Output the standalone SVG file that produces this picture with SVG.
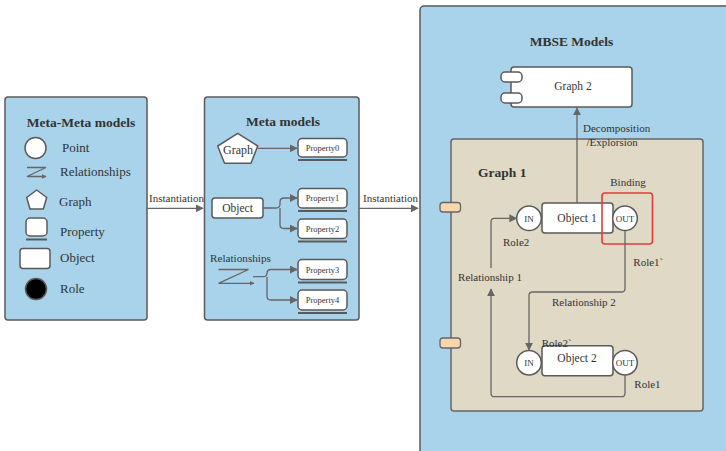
<svg xmlns="http://www.w3.org/2000/svg" width="726" height="451" viewBox="0 0 726 451">
<defs>
<marker id="ah" viewBox="0 0 10 10" refX="9" refY="5" markerWidth="8" markerHeight="8" markerUnits="userSpaceOnUse" orient="auto">
<path d="M0,0 L10,5 L0,10 z" fill="#666"/>
</marker>
<marker id="ahs" viewBox="0 0 10 10" refX="9" refY="5" markerWidth="5" markerHeight="5" markerUnits="userSpaceOnUse" orient="auto">
<path d="M0,0 L10,5 L0,10 z" fill="#666"/>
</marker>
</defs>
<style>
.panel{fill:#a8d3ea;stroke:#5a5a5a;stroke-width:1.5}
.tan{fill:#dfd9c6;stroke:#666;stroke-width:1.5}
.wb{fill:#fff;stroke:#5a5a5a;stroke-width:1.5;stroke-linejoin:round}
.t{font-family:"Liberation Serif","Times New Roman",serif;fill:#333}
.b{font-weight:bold}
.c{fill:none;stroke:#666;stroke-width:1.3}
.ul{stroke:#5a5a5a;stroke-width:2}
.tab{fill:#f9d7ae;stroke:#666;stroke-width:1.3}
</style>
<rect width="726" height="451" fill="#fff"/>

<g id="meta-meta">
<rect class="panel" x="5" y="97" width="142" height="223" rx="3"/>
<text class="t b" x="81" y="126.5" font-size="13.5" text-anchor="middle">Meta-Meta models</text>
<circle class="wb" cx="35.5" cy="148" r="10.5"/>
<text class="t" x="62" y="151.5" font-size="13">Point</text>
<path d="M27,167.5 H46 L27,176.5 H46" fill="none" stroke="#666" stroke-width="1.3" marker-end="url(#ahs)"/>
<text class="t" x="60" y="176" font-size="13">Relationships</text>
<polygon class="wb" points="36.7,190 46.7,197.5 43.3,209 30,209 26.7,197.5"/>
<text class="t" x="59" y="206" font-size="13">Graph</text>
<rect class="wb" x="26" y="218" width="21" height="18" rx="4"/>
<line class="ul" x1="26" y1="239.5" x2="47" y2="239.5"/>
<text class="t" x="60" y="236" font-size="13">Property</text>
<rect class="wb" x="20" y="248.5" width="30" height="20" rx="3"/>
<text class="t" x="60" y="262" font-size="13">Object</text>
<circle cx="36" cy="289" r="10.5" fill="#000" stroke="#5a5a5a" stroke-width="1.5"/>
<text class="t" x="60" y="293" font-size="13">Role</text>
</g>

<g id="meta">
<rect class="panel" x="204.5" y="97" width="154.5" height="223" rx="3"/>
<text class="t b" x="283" y="125.5" font-size="13.5" text-anchor="middle">Meta models</text>
<polygon class="wb" points="237.7,133.3 257.7,146 251,163.3 224.5,163.3 217.7,146"/>
<text class="t" x="238" y="154" font-size="12" text-anchor="middle">Graph</text>
<rect class="wb" x="212" y="198" width="51" height="20" rx="3"/>
<text class="t" x="237.5" y="211.5" font-size="11.5" text-anchor="middle">Object</text>
<text class="t" x="210" y="262" font-size="11.2">Relationships</text>
<path d="M218.5,269.5 H248.5 L218.5,283.3 H254" fill="none" stroke="#666" stroke-width="1.3" marker-end="url(#ahs)"/>
</g>

<g id="property0">
<rect class="wb" x="298" y="138.5" width="49" height="18.5" rx="4"/>
<line class="ul" x1="298" y1="160" x2="347" y2="160"/>
<text class="t" x="322.5" y="151" font-size="8.5" text-anchor="middle">Property0</text>
</g>
<g id="property1">
<rect class="wb" x="298" y="188.5" width="49" height="19.5" rx="4"/>
<line class="ul" x1="298" y1="211" x2="347" y2="211"/>
<text class="t" x="322.5" y="201" font-size="8.5" text-anchor="middle">Property1</text>
</g>
<g id="property2">
<rect class="wb" x="298" y="219" width="49" height="19.5" rx="4"/>
<line class="ul" x1="298" y1="241.5" x2="347" y2="241.5"/>
<text class="t" x="322.5" y="231.5" font-size="8.5" text-anchor="middle">Property2</text>
</g>
<g id="property3">
<rect class="wb" x="298" y="259.5" width="49" height="20" rx="4"/>
<line class="ul" x1="298" y1="282.5" x2="347" y2="282.5"/>
<text class="t" x="322.5" y="272.5" font-size="8.5" text-anchor="middle">Property3</text>
</g>
<g id="property4">
<rect class="wb" x="298" y="290" width="49" height="20" rx="4"/>
<line class="ul" x1="298" y1="313" x2="347" y2="313"/>
<text class="t" x="322.5" y="303" font-size="8.5" text-anchor="middle">Property4</text>
</g>

<g id="mbse">
<rect class="panel" x="420" y="6" width="320" height="460" rx="4"/>
<text class="t b" x="571.5" y="45.5" font-size="13.5" text-anchor="middle">MBSE Models</text>
</g>

<g id="graph2">
<rect class="wb" x="511" y="67" width="121" height="40" rx="3"/>
<rect class="wb" x="501" y="72" width="21" height="10" rx="4"/>
<rect class="wb" x="501" y="93" width="21" height="10" rx="4"/>
<text class="t" x="573" y="90" font-size="11.5" text-anchor="middle">Graph 2</text>
</g>

<g id="graph1">
<rect class="tan" x="451" y="139" width="252" height="272" rx="3"/>
<text class="t b" x="478" y="176.5" font-size="13.5">Graph 1</text>
<rect class="tab" x="440" y="202.5" width="20.5" height="9.5" rx="3"/>
<rect class="tab" x="440" y="338" width="20.5" height="10" rx="3"/>
</g>

<g id="object1">
<rect class="wb" x="542" y="203" width="71" height="30" rx="3"/>
<text class="t" x="577" y="222" font-size="11.5" text-anchor="middle">Object 1</text>
<circle class="wb" cx="529" cy="218.3" r="12.3"/>
<text class="t" x="529" y="221.5" font-size="9" text-anchor="middle">IN</text>
<circle class="wb" cx="625" cy="218.3" r="12.3"/>
<text class="t" x="625" y="221.5" font-size="9" text-anchor="middle">OUT</text>
</g>

<g id="binding">
<rect x="602" y="193" width="50.5" height="51" rx="3" fill="none" stroke="#e53b3b" stroke-width="1.6"/>
<text class="t" x="628" y="185.5" font-size="11" text-anchor="middle">Binding</text>
</g>

<g id="object2">
<rect class="wb" x="542" y="345.7" width="71" height="30" rx="3"/>
<text class="t" x="577" y="362.3" font-size="11.5" text-anchor="middle">Object 2</text>
<circle class="wb" cx="529" cy="362.7" r="12.3"/>
<text class="t" x="529" y="366" font-size="9" text-anchor="middle">IN</text>
<circle class="wb" cx="625" cy="362.7" r="12.3"/>
<text class="t" x="625" y="366" font-size="9" text-anchor="middle">OUT</text>
</g>

<g id="connectors">
<line class="c" x1="147" y1="208.3" x2="203" y2="208.3" marker-end="url(#ah)"/>
<text class="t" x="149" y="202" font-size="11">Instantiation</text>
<line class="c" x1="359" y1="208.3" x2="418" y2="208.3" marker-end="url(#ah)"/>
<text class="t" x="363" y="202" font-size="11">Instantiation</text>
<line class="c" x1="257.7" y1="148.3" x2="297" y2="148.3" marker-end="url(#ah)"/>
<path class="c" d="M263,208 H276 Q280,208 280,204 V202 Q280,198 284,198 H297" marker-end="url(#ah)"/>
<path class="c" d="M280,208 V224.5 Q280,228.5 284,228.5 H297" marker-end="url(#ah)"/>
<path class="c" d="M253,276.7 H263 Q267,276.7 267,272.7 V273.5 Q267,269.5 271,269.5 H297" marker-end="url(#ah)"/>
<path class="c" d="M267,276.7 V296 Q267,300 271,300 H297" marker-end="url(#ah)"/>
<line class="c" x1="577" y1="203" x2="577" y2="108" marker-end="url(#ah)"/>
<text class="t" x="583" y="132" font-size="11">Decomposition</text>
<text class="t" x="586.5" y="146" font-size="11">/Explorsion</text>
<path class="c" d="M625,230.6 V288.5 Q625,292 621.5,292 H532.5 Q529,292 529,295.5 V350" marker-end="url(#ah)"/>
<text class="t" x="552" y="306.3" font-size="11">Relationship 2</text>
<text class="t" x="633.3" y="265.7" font-size="11">Role1`</text>
<text class="t" x="541.7" y="347" font-size="11">Role2`</text>
<path class="c" d="M625,375 V393.2 Q625,396.7 621.5,396.7 H494.5 Q491,396.7 491,393.2 V289" marker-end="url(#ah)"/>
<text class="t" x="490" y="281.3" font-size="11" text-anchor="middle">Relationship 1</text>
<path class="c" d="M491,268 V221.8 Q491,218.3 494.5,218.3 H516.5" marker-end="url(#ah)"/>
<text class="t" x="503" y="245.7" font-size="11">Role2</text>
<text class="t" x="634.3" y="387.7" font-size="11">Role1</text>
</g>
</svg>
